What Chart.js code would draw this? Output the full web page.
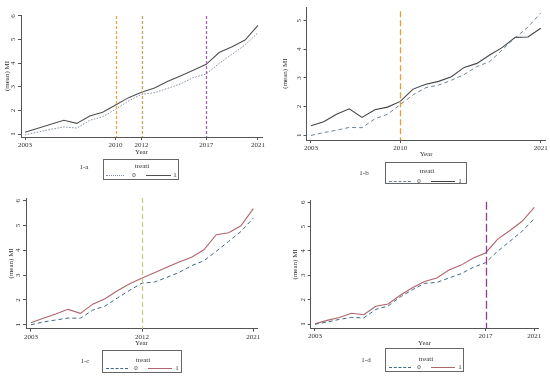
<!DOCTYPE html>
<html>
<head>
<meta charset="utf-8">
<script src="https://cdn.jsdelivr.net/npm/chart.js@4.4.1/dist/chart.umd.min.js"></script>
<style>
  body { margin: 0; background: #fff; width: 550px; height: 376px; position: relative; overflow: hidden;
         font-family: "Liberation Serif", serif; color: #333; }
  canvas { position: absolute; }
  .legend { position: absolute; border: 1px solid #666; box-sizing: border-box; }
  .txt { position: absolute; width: 40px; height: 8px; font-size: 7px; line-height: 8px; text-align: center;
         white-space: nowrap; color: #333; will-change: transform; }
  .sample { position: absolute; height: 0; }
</style>
</head>
<body>
<script>
const years = [2003, 2004, 2005, 2006, 2007, 2008, 2009, 2010, 2011, 2012,
               2013, 2014, 2015, 2016, 2017, 2018, 2019, 2020, 2021];
const groupLabels = ['0', '1'];
const legendTitle = 'treati';
const xTitle = 'Year';
const yTitle = '(mean) MI';

// 1-a
const aControl = [0.96, 1.08, 1.20, 1.30, 1.25, 1.58, 1.73, 2.05, 2.40, 2.68, 2.75, 2.93, 3.12, 3.39, 3.54, 3.99, 4.38, 4.77, 5.29];
const aTreated = [1.07, 1.24, 1.41, 1.58, 1.45, 1.76, 1.92, 2.23, 2.54, 2.77, 2.95, 3.22, 3.46, 3.70, 3.95, 4.45, 4.70, 4.98, 5.60];
const aPolicyYears = [2010, 2012, 2017];
const aXTicks = [2003, 2010, 2012, 2017, 2021];
const aYTicks = [1, 2, 3, 4, 5, 6];

// 1-b
const bControl = [0.99, 1.09, 1.17, 1.27, 1.26, 1.57, 1.73, 2.07, 2.41, 2.66, 2.75, 2.92, 3.12, 3.40, 3.57, 3.99, 4.41, 4.78, 5.27];
const bTreated = [1.33, 1.47, 1.73, 1.92, 1.62, 1.89, 1.98, 2.18, 2.61, 2.78, 2.88, 3.04, 3.37, 3.51, 3.80, 4.07, 4.42, 4.43, 4.74];
const bPolicyYears = [2010];
const bXTicks = [2003, 2010, 2021];
const bYTicks = [1, 2, 3, 4, 5];

// 1-c
const cControl = [1.00, 1.11, 1.19, 1.27, 1.26, 1.59, 1.75, 2.08, 2.39, 2.68, 2.72, 2.91, 3.11, 3.38, 3.58, 3.96, 4.36, 4.76, 5.30];
const cTreated = [1.08, 1.26, 1.43, 1.62, 1.46, 1.83, 2.05, 2.37, 2.65, 2.88, 3.10, 3.32, 3.53, 3.72, 4.02, 4.63, 4.71, 4.99, 5.68];
const cPolicyYears = [2012];
const cXTicks = [2003, 2012, 2021];
const cYTicks = [1, 2, 3, 4, 5, 6];

// 1-d
const dControl = [0.99, 1.08, 1.19, 1.27, 1.25, 1.60, 1.74, 2.11, 2.41, 2.67, 2.71, 2.89, 3.07, 3.33, 3.52, 3.99, 4.40, 4.81, 5.33];
const dTreated = [1.01, 1.15, 1.27, 1.44, 1.38, 1.73, 1.82, 2.18, 2.49, 2.75, 2.89, 3.22, 3.42, 3.71, 3.92, 4.49, 4.84, 5.22, 5.79];
const dPolicyYears = [2017];
const dXTicks = [2003, 2017, 2021];
const dYTicks = [1, 2, 3, 4, 5, 6];

const axisColor = '#555';
const textColor = '#333';
const font = { family: 'Liberation Serif', size: 7 };

// dashed vertical lines at the policy years
const policyLines = {
  id: 'policyLines',
  afterDatasetsDraw(chart, args, opts) {
    const { ctx, chartArea, scales: { x } } = chart;
    ctx.save();
    opts.years.forEach((yr, i) => {
      const px = Math.round(x.getPixelForValue(yr)) + 0.5;
      ctx.strokeStyle = opts.colors[i];
      ctx.lineWidth = 1.3;
      ctx.setLineDash(opts.dash);
      ctx.beginPath();
      ctx.moveTo(px, chartArea.top + (opts.topGap || 0));
      ctx.lineTo(px, chartArea.bottom);
      ctx.stroke();
    });
    ctx.restore();
  }
};

function addText(parent, str, cx, cy) {
  const el = document.createElement('div');
  el.className = 'txt';
  el.textContent = str;
  el.style.left = Math.round(cx - 20) + 'px';
  el.style.top = Math.round(cy - 4) + 'px';
  parent.appendChild(el);
}

function drawPanel(p) {
  const canvas = document.createElement('canvas');
  canvas.width = p.w;
  canvas.height = p.h;
  canvas.style.left = p.left + 'px';
  canvas.style.top = p.top + 'px';
  document.body.appendChild(canvas);

  new Chart(canvas, {
    type: 'line',
    data: {
      datasets: [
        { label: groupLabels[0], data: years.map((yr, i) => ({ x: yr, y: p.control[i] })),
          borderColor: p.c0, borderDash: p.dash0, borderWidth: 1, pointRadius: 0, tension: 0 },
        { label: groupLabels[1], data: years.map((yr, i) => ({ x: yr, y: p.treated[i] })),
          borderColor: p.c1, borderWidth: 1.1, pointRadius: 0, tension: 0 }
      ]
    },
    options: {
      responsive: false,
      animation: false,
      layout: { padding: { left: 0, top: p.padTop, right: p.padRight, bottom: 0 } },
      plugins: {
        legend: { display: false },
        tooltip: { enabled: false },
        policyLines: { years: p.policy, colors: p.vColors, dash: p.vDash, topGap: p.vGap }
      },
      scales: {
        x: {
          type: 'linear', min: p.xMin, max: p.xMax,
          afterBuildTicks: s => { s.ticks = p.xTicks.map(v => ({ value: v })); },
          afterFit: s => { s.height = p.h - p.bottom; },
          ticks: { callback: v => String(v), font, color: textColor, padding: 1, maxRotation: 0, autoSkip: false },
          grid: { display: true, drawOnChartArea: false, drawTicks: true, tickLength: 3, color: axisColor },
          border: { display: true, color: axisColor },
          title: { display: true, text: xTitle, font, color: textColor, padding: { top: 0, bottom: p.yearPad } }
        },
        y: {
          min: p.yMin, max: p.yMax,
          afterBuildTicks: s => { s.ticks = p.yTicks.map(v => ({ value: v })); },
          afterFit: s => { s.width = p.axisX; },
          ticks: { font, color: textColor, padding: 3, minRotation: 90, maxRotation: 90, crossAlign: 'center', autoSkip: false },
          grid: { display: true, drawOnChartArea: false, drawTicks: true, tickLength: 3, color: axisColor },
          border: { display: true, color: axisColor },
          title: { display: true, text: yTitle, font, color: textColor, padding: { top: p.yTitlePad, bottom: 0 } }
        }
      }
    },
    plugins: [policyLines]
  });

  // legend box and panel tag
  const lg = p.legend;
  const box = document.createElement('div');
  box.className = 'legend';
  box.style.left = lg.left + 'px';
  box.style.top = lg.top + 'px';
  box.style.width = lg.w + 'px';
  box.style.height = lg.h + 'px';
  document.body.appendChild(box);
  addText(box, legendTitle, lg.w / 2, lg.titleY);
  const styles = [p.legendStyle0, 'solid'];
  const colors = [p.c0, p.c1];
  lg.items.forEach((it, i) => {
    const s = document.createElement('div');
    s.className = 'sample';
    s.style.left = it.x0 + 'px';
    s.style.width = (it.x1 - it.x0) + 'px';
    s.style.top = Math.round(lg.itemY) + 'px';
    s.style.borderTop = '1px ' + styles[i] + ' ' + colors[i];
    box.appendChild(s);
    addText(box, groupLabels[i], it.tx, lg.itemY);
  });
  addText(document.body, p.tag, p.tagX, p.tagY);
}

const legendItems = [{ x0: 3, x1: 25, tx: 33 }, { x0: 45, x1: 69, tx: 74 }];

drawPanel({
  tag: '1-a', tagX: 84, tagY: 167,
  left: 0, top: 0, w: 275, h: 158, bottom: 137, axisX: 21, padTop: 15, padRight: 13,
  xMin: 2002.69, xMax: 2021.31, yMin: 0.873, yMax: 6.04, yearPad: 1.8, yTitlePad: 3,
  xTicks: aXTicks, yTicks: aYTicks, control: aControl, treated: aTreated,
  c0: '#7d8ea3', dash0: [1.5, 1.5], c1: '#505050', legendStyle0: 'dotted',
  policy: aPolicyYears, vColors: ['#eca24c', '#b9aa5e', '#a862b2'], vDash: [3, 2], vGap: 1,
  legend: { left: 103, top: 159, w: 76, h: 21, titleY: 6, itemY: 15,
            items: [{ x0: 2, x1: 20, tx: 30 }, { x0: 42, x1: 67, tx: 71 }] }
});

drawPanel({
  tag: '1-b', tagX: 364, tagY: 173,
  left: 275, top: 0, w: 275, h: 160, bottom: 140, axisX: 31.5, padTop: 3, padRight: 4.3,
  xMin: 2002.65, xMax: 2021.39, yMin: 0.83, yMax: 5.475, yearPad: 1.8, yTitlePad: 6,
  xTicks: bXTicks, yTicks: bYTicks, control: bControl, treated: bTreated,
  c0: '#6a8597', dash0: [4, 3], c1: '#444', legendStyle0: 'dashed',
  policy: bPolicyYears, vColors: ['#e99a3a'], vDash: [6, 3], vGap: 4,
  legend: { left: 385, top: 162, w: 82, h: 22, titleY: 7.5, itemY: 17.5, items: legendItems }
});

drawPanel({
  tag: '1-c', tagX: 85, tagY: 361,
  left: 0, top: 188, w: 275, h: 160, bottom: 140.7, axisX: 26, padTop: 10, padRight: 18,
  xMin: 2002.6, xMax: 2021.3, yMin: 0.84, yMax: 6.11, yearPad: 0.8, yTitlePad: 6.8,
  xTicks: cXTicks, yTicks: cYTicks, control: cControl, treated: cTreated,
  c0: '#3f6a80', dash0: [4, 3], c1: '#b0646c', legendStyle0: 'dashed',
  policy: cPolicyYears, vColors: ['#cfc98a'], vDash: [5, 3], vGap: 0,
  legend: { left: 102, top: 350, w: 80, h: 23, titleY: 8.5, itemY: 17, items: legendItems }
});

drawPanel({
  tag: '1-d', tagX: 366, tagY: 360,
  left: 275, top: 188, w: 275, h: 160, bottom: 140, axisX: 35.7, padTop: 12.7, padRight: 11.7,
  xMin: 2002.65, xMax: 2021.33, yMin: 0.836, yMax: 6.066, yearPad: 0.8, yTitlePad: 15.8,
  xTicks: dXTicks, yTicks: dYTicks, control: dControl, treated: dTreated,
  c0: '#3f6a80', dash0: [4, 3], c1: '#b0646c', legendStyle0: 'dashed',
  policy: dPolicyYears, vColors: ['#8e3f93'], vDash: [8, 3], vGap: 1,
  legend: { left: 385, top: 348, w: 79, h: 24, titleY: 9.5, itemY: 18, items: legendItems }
});
</script>
</body>
</html>
